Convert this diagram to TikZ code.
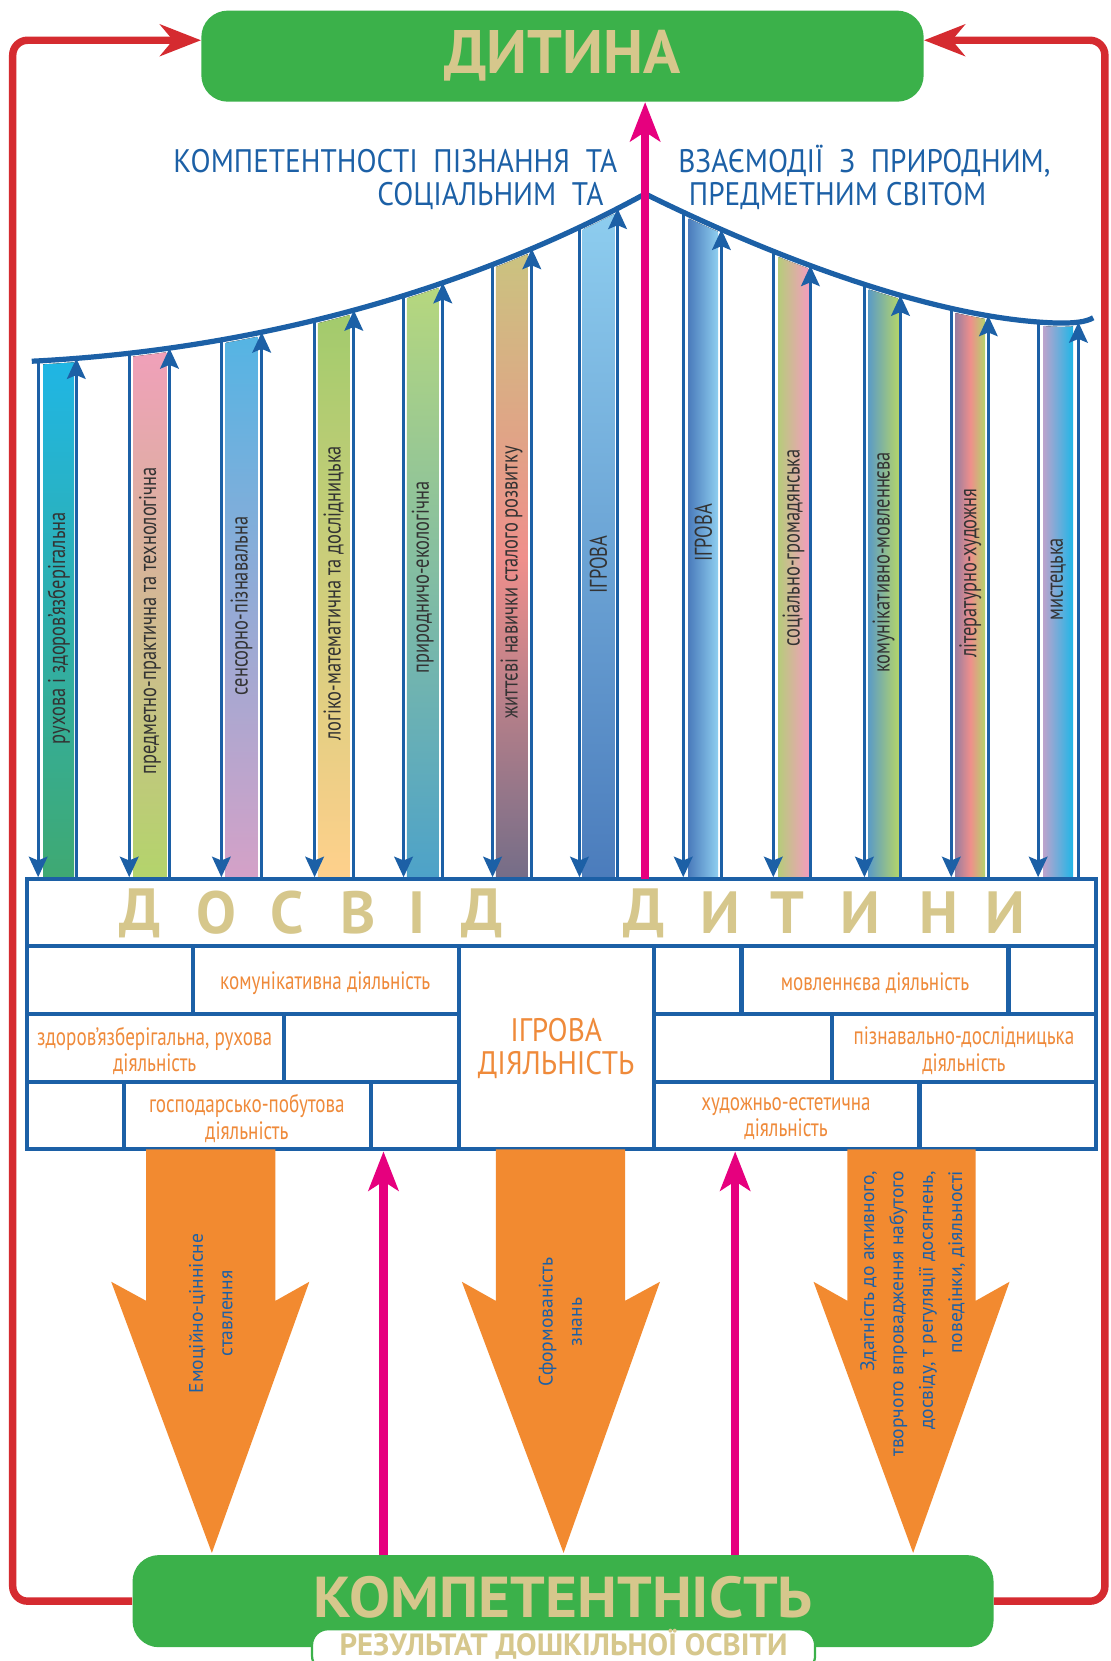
\documentclass[tikz,border=0pt]{standalone}
\usepackage{fontspec}
\setmainfont{PT Sans}
\newfontfamily\narrowfont[FakeStretch=0.76]{PT Sans}
\newfontfamily\headfont[FakeStretch=0.9]{PT Sans}
\newfontfamily\widefont[FakeStretch=1.06]{PT Sans}
\usetikzlibrary{arrows.meta,intersections}
\definecolor{kgreen}{HTML}{3BB14A}
\definecolor{ktan}{HTML}{D6C78C}
\definecolor{kred}{HTML}{D52B30}
\definecolor{kpink}{HTML}{E6007E}
\definecolor{kblue}{HTML}{1C60A6}
\definecolor{korange}{HTML}{F28A30}
\definecolor{ktext}{HTML}{EF8A3A}
\definecolor{kgray}{HTML}{333333}
\definecolor{bcyan}{HTML}{1FB6E7}
\definecolor{bgreen}{HTML}{3FA972}
\definecolor{bpink}{HTML}{F29EBC}
\definecolor{blime}{HTML}{B3D46B}
\definecolor{bsky}{HTML}{4FB5E5}
\definecolor{blilac}{HTML}{D5A1C7}
\definecolor{bleaf}{HTML}{9ECB6B}
\definecolor{bpeach}{HTML}{FFD08C}
\definecolor{bpale}{HTML}{BAD97B}
\definecolor{bteal}{HTML}{4DA2C9}
\definecolor{bkhaki}{HTML}{C8C67F}
\definecolor{bsalmon}{HTML}{EF8F8B}
\definecolor{bplum}{HTML}{746D88}
\definecolor{blight}{HTML}{8FCFF0}
\definecolor{bdeep}{HTML}{4B7CBC}
\definecolor{bolive}{HTML}{B7CB7C}
\definecolor{bsea}{HTML}{5C9CC4}
\definecolor{bmauve}{HTML}{9C7E9F}
\definecolor{blav}{HTML}{BBA3CD}
\begin{document}
\begin{tikzpicture}[x=0.02cm,y=-0.02cm,
	greenbox/.style={fill=kgreen,rounded corners=0.5cm,inner sep=0pt,text=ktan},
	headtext/.style={inner sep=0pt,text=kblue,font=\headfont\fontsize{17.5}{17.5}\selectfont},
	barlabel/.style={rotate=90,inner sep=0pt,text=kgray,font=\narrowfont\fontsize{13}{13}\selectfont},
	celltext/.style={inner sep=0pt,align=center,text=ktext,font=\narrowfont\fontsize{13.5}{14.2}\selectfont},
	bigletter/.style={inner sep=0pt,text=ktan,font=\bfseries\fontsize{32}{32}\selectfont},
	cellline/.style={draw=kblue,line width=2.2pt},
	thinarrow/.style={draw=kblue,line width=1.7pt,-{Stealth[length=11pt,width=10pt,inset=2pt]}},
	pinkarrow/.style={draw=kpink,line width=4.5pt,-{Stealth[length=21pt,width=16pt,inset=5pt]}},
	redline/.style={draw=kred,line width=4pt,rounded corners=8pt,-{Stealth[length=22pt,width=17pt,inset=7pt]}},
	arrowtext/.style={rotate=90,inner sep=0pt,text=kblue,font=\fontsize{10.5}{15.8}\selectfont}]
	\useasboundingbox (0,0) rectangle (1048,1568);
	\fill[white] (0,0) rectangle (1048,1568);
	\node[greenbox,minimum width=13.64cm,minimum height=1.72cm,font=\bfseries\fontsize{33}{33}\selectfont] (dytyna) at (531,53) {ДИТИНА};
	\node[greenbox,minimum width=16.26cm,minimum height=1.74cm,text depth=5pt,font=\widefont\bfseries\fontsize{31}{31}\selectfont] (komp) at (531.5,1511.5) {КОМПЕТЕНТНІСТЬ};
	\node[draw=kgreen,line width=1.2pt,fill=white,rounded corners=0.3cm,minimum width=9.5cm,minimum height=0.8cm,inner sep=0pt] (rez) at (532,1558) {};
	\node[inner sep=0pt,text depth=0pt,text=ktan,font=\bfseries\fontsize{16.5}{16.5}\selectfont] (reztext) at (532,1550) {РЕЗУЛЬТАТ ДОШКІЛЬНОЇ ОСВІТИ};
	\coordinate (tl) at (12,38);
	\coordinate (tr) at (1043,38);
	\draw[redline] (komp.west) -| (tl) -- (tl -| dytyna.west);
	\draw[redline] (komp.east) -| (tr) -- (tr -| dytyna.east);
	\node[headtext,anchor=east] (h1) at (583,152) {КОМПЕТЕНТНОСТІ\ \ ПІЗНАННЯ\ \ ТА};
	\node[headtext,anchor=east] (h2) at (570,185) {СОЦІАЛЬНИМ\ \ ТА};
	\node[headtext,anchor=west] (h3) at (640,152) {ВЗАЄМОДІЇ\ \ З\ \ ПРИРОДНИМ,};
	\node[headtext,anchor=west] (h4) at (650,185) {ПРЕДМЕТНИМ СВІТОМ};
	\begin{scope}
		\clip[yshift=-2pt] (30,341) .. controls (250,330) and (450,270) .. (609,183) .. controls (720,238) and (880,302) .. (1000,305) .. controls (1015,305) and (1025,304) .. (1032,300) -- (1032,830) -- (30,830) -- cycle;
		\fill[top color=bcyan,bottom color=bgreen] (41,330) rectangle (70,830);
		\fill[top color=bpink,bottom color=blime] (126,315) rectangle (157,830);
		\fill[top color=bsky,bottom color=blilac] (213,295) rectangle (243,830);
		\fill[top color=bleaf,bottom color=bpeach] (300,272) rectangle (330,830);
		\fill[top color=bpale,bottom color=bteal] (384,250) rectangle (414,830);
		\fill[top color=bkhaki,bottom color=bplum,middle color=bsalmon] (468,222) rectangle (498,830);
		\fill[top color=blight,bottom color=bdeep] (550,185) rectangle (580,830);
		\fill[left color=bdeep,right color=blight] (650,185) rectangle (678,830);
		\fill[left color=bolive,right color=bpink] (735,185) rectangle (763,830);
		\fill[left color=bsea,right color=blime] (820,185) rectangle (848,830);
		\fill[left color=bmauve,right color=blime,middle color=bsalmon] (902,185) rectangle (930,830);
		\fill[left color=blav,right color=bcyan] (985,185) rectangle (1013,830);
	\end{scope}
	\node[barlabel] (l1) at (55.5,593) {рухова і здоров’язберігальна};
	\node[barlabel] (l2) at (141.5,586) {предметно-практична та технологічна};
	\node[barlabel] (l3) at (228,572) {сенсорно-пізнавальна};
	\node[barlabel] (l4) at (315,560) {логіко-математична та дослідницька};
	\node[barlabel] (l5) at (399,545) {природничо-екологічна};
	\node[barlabel] (l6) at (483,550) {життєві навички сталого розвитку};
	\node[barlabel] (l7) at (565,533) {ІГРОВА};
	\node[barlabel] (l8) at (664,503) {ІГРОВА};
	\node[barlabel] (l9) at (749,517) {соціально-громадянська};
	\node[barlabel] (l10) at (834,531) {комунікативно-мовленнєва};
	\node[barlabel] (l11) at (916,541) {літературно-художня};
	\node[barlabel] (l12) at (999,547) {мистецька};
	\node[draw=kblue,line width=2.2pt,minimum width=20.2cm,minimum height=5.1cm,inner sep=0pt] (dosvid) at (530,957.5) {};
	\draw[cellline] (25,893) -- (1035,893);
	\draw[cellline] (25,957) -- (433,957) (617,957) -- (1035,957);
	\draw[cellline] (25,1021) -- (433,1021) (617,1021) -- (1035,1021);
	\draw[cellline] (433,893) -- (433,1085) (617,893) -- (617,1085);
	\draw[cellline] (182,893) -- (182,957) (700,893) -- (700,957) (952,893) -- (952,957);
	\draw[cellline] (268,957) -- (268,1021) (785,957) -- (785,1021);
	\draw[cellline] (117,1021) -- (117,1085) (350,1021) -- (350,1085) (868,1021) -- (868,1085);
	\foreach \x/\l [count=\i] in {132/Д,204/О,271/С,338/В,394/І,455/Д,608/Д,680/И,743/Т,812/И,886/Н,949/И}
		\node[bigletter] (let\i) at (\x,862) {\l};
	\node[celltext] (c1) at (307,928) {комунікативна діяльність};
	\node[celltext] (c2) at (826,928) {мовленнєва діяльність};
	\node[celltext] (c3) at (146,992) {здоров’язберігальна, рухова\\діяльність};
	\node[celltext] (c4) at (910,992) {пізнавально-дослідницька\\діяльність};
	\node[celltext] (c5) at (233,1056) {господарсько-побутова\\діяльність};
	\node[celltext] (c6) at (742,1056) {художньо-естетична\\діяльність};
	\node[celltext,font=\headfont\fontsize{17.5}{17.8}\selectfont] (c7) at (525,990) {ІГРОВА\\ДІЯЛЬНІСТЬ};
	\draw[kblue,line width=2.8pt,name path=arch] (30,341) .. controls (250,330) and (450,270) .. (609,183) .. controls (720,238) and (880,302) .. (1000,305) .. controls (1015,305) and (1025,304) .. (1032,300);
	\foreach \xd/\xu in {36/72,122/160,209/247,297/334,381/418,465/502,547/583,645/681,730/765,816/850,898/933,980/1018}{
		\path[name path=down] (\xd,100) -- (\xd,900);
		\path[name path=up] (\xu,100) -- (\xu,900);
		\path[name intersections={of=arch and down,by=s}];
		\path[name intersections={of=arch and up,by=e}];
		\draw[thinarrow] (s) -- (s |- dosvid.north);
		\draw[thinarrow] (e |- dosvid.north) -- (e);
	}
	\fill[korange] (138,1085) -- (138,1228) -- (105,1210) -- (200,1466) -- (292,1210) -- (260,1228) -- (260,1085) -- cycle;
	\fill[korange] (468,1085) -- (468,1228) -- (436,1210) -- (532,1466) -- (623,1210) -- (590,1228) -- (590,1085) -- cycle;
	\fill[korange] (800,1085) -- (800,1228) -- (768,1210) -- (862,1466) -- (953,1210) -- (921,1228) -- (921,1085) -- cycle;
	\node[arrowtext,align=center] (o1) at (199,1240) {Емоційно-ціннісне\\ставлення};
	\node[arrowtext,align=center] (o2) at (529,1248) {Сформованість\\знань};
	\node[arrowtext,align=right,anchor=east] (o3) at (861.5,1105) {Здатність до активного,\\творчого впровадження набутого\\досвіду, т регуляції досягнень,\\поведінки, діяльності};
	\coordinate (pc) at (609,830);
	\coordinate (pl) at (362,1468);
	\coordinate (pr) at (694,1468);
	\draw[pinkarrow] (pc) -- (pc |- dytyna.south);
	\draw[pinkarrow] (pl) -- (pl |- dosvid.south);
	\draw[pinkarrow] (pr) -- (pr |- dosvid.south);
\end{tikzpicture}
\end{document}
